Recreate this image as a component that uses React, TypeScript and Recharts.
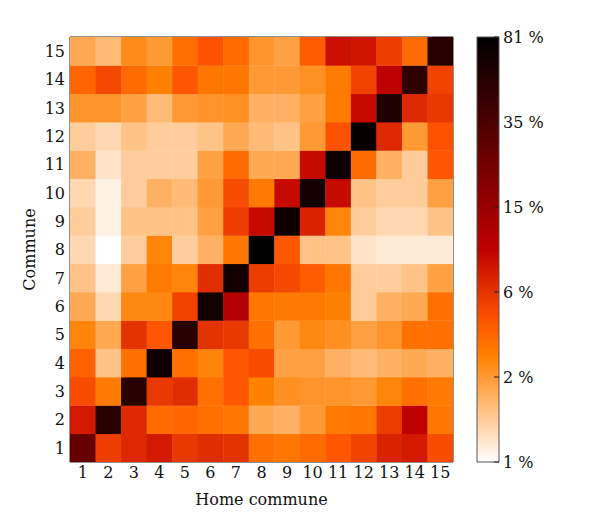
import React from 'react';
import { Bar, BarChart, Scatter, ScatterChart, XAxis, YAxis } from 'recharts';

const COMMUNES = [1, 2, 3, 4, 5, 6, 7, 8, 9, 10, 11, 12, 13, 14, 15];
// colorbar labels, evenly spaced along the bar
const CB_TICKS = [1, 2, 6, 15, 35, 81];

// share (%) of each home commune (columns 1..15) going to commune N
const ROW_1 = [27, 5.4, 6.6, 7.5, 5.7, 6.3, 6.0, 3.1, 2.9, 3.3, 4.1, 5.1, 6.9, 7.5, 4.6];
const ROW_2 = [7.5, 53, 6.6, 3.3, 3.5, 3.1, 2.9, 1.8, 1.7, 2.0, 2.8, 2.9, 5.4, 9.5, 2.9];
const ROW_3 = [4.6, 2.8, 53, 5.7, 6.3, 3.1, 4.1, 2.6, 2.2, 2.1, 2.1, 2.0, 2.5, 3.1, 2.8];
const ROW_4 = [3.7, 1.5, 3.1, 69, 3.1, 2.5, 4.1, 4.6, 1.9, 1.9, 1.7, 1.6, 1.7, 1.8, 1.7];
const ROW_5 = [2.5, 1.8, 6.0, 4.1, 53, 6.0, 5.7, 3.1, 2.0, 2.4, 2.2, 1.9, 2.1, 3.1, 3.1];
const ROW_6 = [1.8, 1.3, 2.4, 2.4, 5.1, 66, 10.9, 2.9, 2.8, 2.8, 2.6, 1.4, 1.7, 1.8, 3.1];
const ROW_7 = [1.5, 1.15, 1.9, 2.8, 2.5, 6.3, 66, 5.4, 4.8, 3.9, 2.9, 1.4, 1.4, 1.5, 1.9];
const ROW_8 = [1.3, 1.0, 1.4, 2.5, 1.4, 1.7, 2.9, 81, 4.1, 1.5, 1.5, 1.2, 1.15, 1.15, 1.15];
const ROW_9 = [1.4, 1.1, 1.5, 1.5, 1.5, 1.9, 5.4, 8.7, 69, 6.9, 2.5, 1.4, 1.3, 1.3, 1.5];
const ROW_10 = [1.3, 1.1, 1.4, 1.7, 1.6, 2.0, 4.6, 2.8, 8.7, 66, 8.7, 1.5, 1.4, 1.4, 1.9];
const ROW_11 = [1.7, 1.2, 1.4, 1.4, 1.4, 1.9, 3.3, 1.8, 1.8, 8.7, 69, 3.3, 1.7, 1.4, 4.1];
const ROW_12 = [1.4, 1.3, 1.5, 1.4, 1.4, 1.5, 1.8, 1.6, 1.5, 2.0, 4.3, 75, 6.6, 2.0, 4.3];
const ROW_13 = [2.1, 2.1, 1.9, 1.6, 2.0, 2.1, 2.2, 1.7, 1.7, 1.9, 2.8, 8.7, 58, 6.6, 5.7];
const ROW_14 = [3.5, 4.8, 3.3, 2.6, 4.1, 2.9, 2.9, 2.0, 2.0, 2.2, 2.8, 5.1, 9.5, 49, 5.1];
const ROW_15 = [1.8, 1.6, 2.3, 2.0, 3.1, 4.3, 3.3, 2.1, 1.9, 3.9, 8.3, 7.9, 5.4, 3.3, 53];

const ROWS = [
  ROW_1, ROW_2, ROW_3, ROW_4, ROW_5, ROW_6, ROW_7, ROW_8,
  ROW_9, ROW_10, ROW_11, ROW_12, ROW_13, ROW_14, ROW_15,
];

const cells = ROWS.flatMap((row, i) =>
  row.map((share, j) => ({ home: COMMUNES[j], commune: COMMUNES[i], share })),
);

const FONT = '"DejaVu Serif", serif';
const INK = '#111';
const PLOT_W = 383;
const PLOT_H = 425;
const CELL_W = PLOT_W / COMMUNES.length;
const CELL_H = PLOT_H / COMMUNES.length;

// position on the colorbar (0..1), log-interpolated between labelled ticks
function sharePos(v: number) {
  const n = CB_TICKS.length - 1;
  if (v <= CB_TICKS[0]) return 0;
  for (let k = 0; k < n; k++) {
    const a = CB_TICKS[k];
    const b = CB_TICKS[k + 1];
    if (v <= b) return (k + Math.log(v / a) / Math.log(b / a)) / n;
  }
  return 1;
}

// matplotlib gist_heat_r
function heat(t: number) {
  const x = 1 - t;
  const c = (u: number) => Math.round(255 * Math.max(0, Math.min(1, u)));
  return `rgb(${c(1.5 * x)},${c(2 * x - 1)},${c(4 * x - 3)})`;
}

const gradStops = Array.from({ length: 21 }, (_, i) => i / 20);
const cbData = [{ name: 'cb', full: 1 }];
const cbPositions = CB_TICKS.map((_, i) => i / (CB_TICKS.length - 1));

const tickStyle = { fontSize: 16, fill: INK, fontFamily: FONT };
const lineStyle = { stroke: '#222' };

function Cell(props: any) {
  const { cx, cy, payload } = props;
  return (
    <rect
      x={cx - CELL_W / 2}
      y={cy - CELL_H / 2}
      width={CELL_W + 0.4}
      height={CELL_H + 0.4}
      fill={heat(sharePos(payload.share))}
    />
  );
}

export default function App() {
  return (
    <div style={{ position: 'absolute', left: 0, top: 0, width: 598, height: 512, background: '#fff' }}>
      <div style={{ position: 'absolute', left: 0, top: 0 }}>
        <ScatterChart width={598} height={512} margin={{ top: 36, right: 144, bottom: 20, left: 30 }}>
          <XAxis
            xAxisId="b"
            dataKey="home"
            type="number"
            domain={[0.5, 15.5]}
            ticks={COMMUNES}
            interval={0}
            allowDataOverflow
            height={30}
            tickSize={-4}
            tickMargin={9}
            tick={tickStyle}
            axisLine={lineStyle}
            tickLine={lineStyle}
          />
          <XAxis
            xAxisId="t"
            orientation="top"
            type="number"
            domain={[0.5, 15.5]}
            ticks={COMMUNES}
            interval={0}
            allowDataOverflow
            height={1}
            tickSize={-4}
            tick={() => null}
            axisLine={lineStyle}
            tickLine={lineStyle}
          />
          <YAxis
            yAxisId="l"
            dataKey="commune"
            type="number"
            domain={[0.5, 15.5]}
            ticks={COMMUNES}
            interval={0}
            allowDataOverflow
            width={40}
            tickSize={-4}
            tickMargin={9}
            tick={tickStyle}
            axisLine={lineStyle}
            tickLine={lineStyle}
          />
          <YAxis
            yAxisId="r"
            orientation="right"
            type="number"
            domain={[0.5, 15.5]}
            ticks={COMMUNES}
            interval={0}
            allowDataOverflow
            width={1}
            tickSize={-4}
            tick={() => null}
            axisLine={lineStyle}
            tickLine={lineStyle}
          />
          <Scatter
            xAxisId="b"
            yAxisId="l"
            data={cells}
            shape={Cell}
            isAnimationActive={false}
          />
        </ScatterChart>
      </div>
      <div style={{ position: 'absolute', left: 0, top: 0 }}>
        <BarChart
          width={598}
          height={512}
          data={cbData}
          barCategoryGap={0}
          margin={{ top: 37, right: 29, bottom: 50, left: 477 }}
        >
          <defs>
            <linearGradient id="cbGrad" x1="0" y1="1" x2="0" y2="0">
              {gradStops.map((t) => (
                <stop key={t} offset={t} stopColor={heat(t)} />
              ))}
            </linearGradient>
          </defs>
          <XAxis dataKey="name" type="category" hide />
          <YAxis
            orientation="right"
            type="number"
            domain={[0, 1]}
            ticks={cbPositions}
            interval={0}
            width={70}
            tickSize={-5}
            tickMargin={9}
            axisLine={false}
            tickLine={{ stroke: '#222' }}
            tick={tickStyle}
            tickFormatter={(t: number) => `${CB_TICKS[Math.round(t * (CB_TICKS.length - 1))]} %`}
          />
          <Bar dataKey="full" fill="url(#cbGrad)" stroke="#555" strokeWidth={1} isAnimationActive={false} />
        </BarChart>
      </div>
      <svg
        width={598}
        height={512}
        style={{ position: 'absolute', left: 0, top: 0, pointerEvents: 'none' }}
      >
        <text x={261.5} y={505} textAnchor="middle" fontSize={16} fontFamily={FONT} fill={INK}>
          Home commune
        </text>
        <text
          x={35}
          y={249.5}
          textAnchor="middle"
          fontSize={16}
          fontFamily={FONT}
          fill={INK}
          transform="rotate(-90 35 249.5)"
        >
          Commune
        </text>
      </svg>
    </div>
  );
}
